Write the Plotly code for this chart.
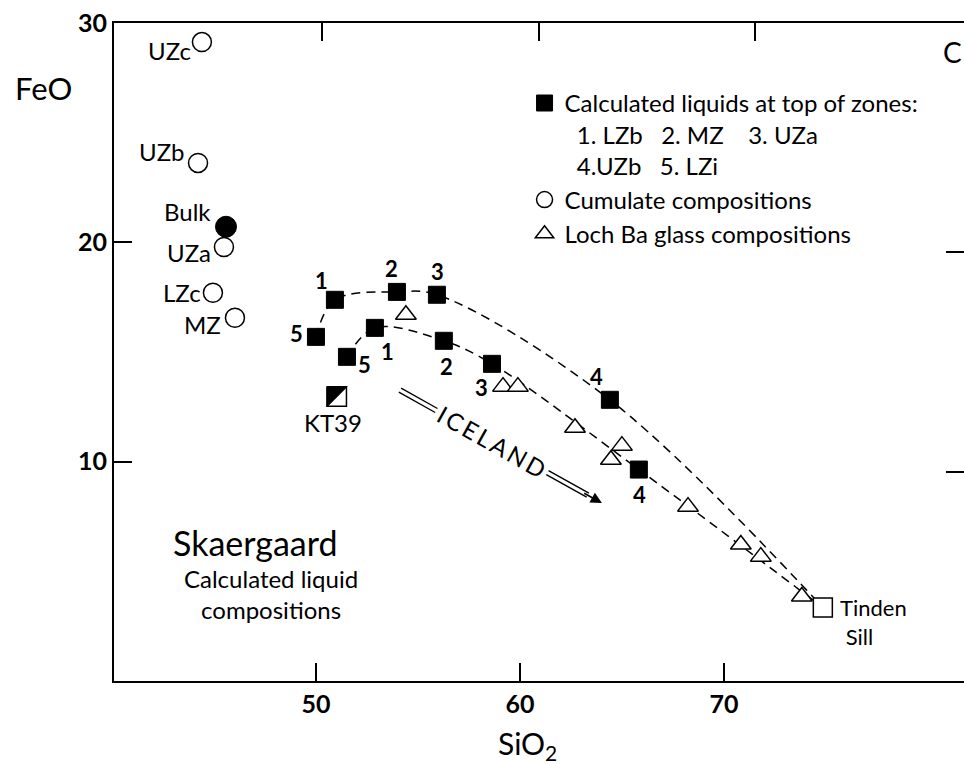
import math
import plotly.graph_objects as go

# ---------------------------------------------------------------- data
# Calculated liquids at the top of each zone (SiO2, FeO wt%)
zone_numbers = ["5", "1", "2", "3", "4"]
upper_sio2 = [50.00, 50.93, 53.97, 55.93, 64.41]
upper_feo = [15.69, 17.38, 17.74, 17.61, 12.82]
lower_sio2 = [51.52, 52.89, 56.27, 58.63, 65.83]
lower_feo = [14.78, 16.10, 15.51, 14.46, 9.64]

# Cumulate compositions
cumulate_names = ["UZc", "UZb", "UZa", "LZc", "MZ"]
cumulate_sio2 = [44.41, 44.22, 45.49, 44.95, 46.03]
cumulate_feo = [29.13, 23.62, 19.79, 17.70, 16.56]

# Bulk composition
bulk_name = "Bulk"
bulk_sio2 = [45.59]
bulk_feo = [20.71]

# Loch Ba glass compositions
lochba_sio2 = [54.41, 59.17, 59.90, 62.70, 65.00, 64.46, 68.24, 70.83, 71.81, 73.82]
lochba_feo = [16.70, 13.42, 13.42, 11.55, 10.73, 10.09, 7.95, 6.22, 5.67, 3.85]

# Single samples
kt39_name = "KT39"
kt39_sio2 = [51.03]
kt39_feo = [12.96]
tinden_name = "Tinden<br>\u00a0Sill"
tinden_sio2 = [74.85]
tinden_feo = [3.35]

x_ticks = [50, 60, 70]
y_ticks = [10, 20, 30]

# ---------------------------------------------------------------- layout constants
W, H = 964, 764
M_L, M_R, M_T, M_B = 114, 0, 23, 83
X_RANGE = [40.1, 81.77]
Y_RANGE = [0, 30]
PLOT_W = W - M_L - M_R
PLOT_H = H - M_T - M_B
PX_X = PLOT_W / (X_RANGE[1] - X_RANGE[0])   # pixels per SiO2 unit
PX_Y = PLOT_H / (Y_RANGE[1] - Y_RANGE[0])   # pixels per FeO unit

FONT = "Lato, 'Open Sans', sans-serif"
INK = "black"

fig = go.Figure()

# dashed liquid trends ending at the Tinden Sill composition
for xs, ys in ((upper_sio2, upper_feo), (lower_sio2, lower_feo)):
    fig.add_trace(go.Scatter(
        x=xs + tinden_sio2, y=ys + tinden_feo, mode="lines",
        line=dict(color=INK, width=1.5, dash="9px,6px", shape="spline", smoothing=1.0),
        showlegend=False, hoverinfo="skip"))

legend_liquids = ("Calculated liquids at top of zones:<br>"
                  "\u00a0\u00a01.\u00a0LZb\u00a0\u00a0\u00a02.\u00a0MZ\u00a0\u00a0\u00a0\u00a03.\u00a0UZa<br>"
                  "\u00a0\u00a04.UZb\u00a0\u00a0\u00a05.\u00a0LZi")

fig.add_trace(go.Scatter(
    x=upper_sio2, y=upper_feo, mode="markers", name=legend_liquids,
    marker=dict(symbol="square", size=17, color=INK, line=dict(color=INK, width=1))))
fig.add_trace(go.Scatter(
    x=lower_sio2, y=lower_feo, mode="markers", showlegend=False,
    marker=dict(symbol="square", size=17, color=INK, line=dict(color=INK, width=1))))

fig.add_trace(go.Scatter(
    x=cumulate_sio2, y=cumulate_feo, mode="markers", name="Cumulate compositions",
    marker=dict(symbol="circle", size=19, color="white", line=dict(color=INK, width=1.5))))
fig.add_trace(go.Scatter(
    x=bulk_sio2, y=bulk_feo, mode="markers", showlegend=False,
    marker=dict(symbol="circle", size=21, color=INK, line=dict(color=INK, width=1))))

fig.add_trace(go.Scatter(
    x=lochba_sio2, y=lochba_feo, mode="markers", name="Loch Ba glass compositions",
    marker=dict(symbol="triangle-up", size=18, color="white", line=dict(color=INK, width=1.5))))

fig.add_trace(go.Scatter(
    x=tinden_sio2, y=tinden_feo, mode="markers", showlegend=False,
    marker=dict(symbol="square", size=19, color="white", line=dict(color=INK, width=1.5))))

# KT39: open square with its upper-left half filled
fig.add_trace(go.Scatter(
    x=kt39_sio2, y=kt39_feo, mode="markers", showlegend=False,
    marker=dict(symbol="square", size=19, color="white", line=dict(color=INK, width=1.5))))
half_x = 10.2 / PX_X
half_y = 10.2 / PX_Y
kx, ky = kt39_sio2[0], kt39_feo[0]
fig.add_trace(go.Scatter(
    x=[kx - half_x, kx + half_x, kx - half_x, kx - half_x],
    y=[ky + half_y, ky + half_y, ky - half_y, ky + half_y],
    mode="lines", fill="toself", fillcolor=INK, line=dict(color=INK, width=1),
    showlegend=False, hoverinfo="skip"))

# helper trace so the top / right frame axes are drawn
fig.add_trace(go.Scatter(x=[], y=[], xaxis="x2", yaxis="y2", showlegend=False))

annotations = []

def label(x, y, text, dx, dy, size=24, bold=False, anchor="center", align="center"):
    annotations.append(dict(
        x=x, y=y, xref="x", yref="y", text=text, showarrow=False, align=align,
        xanchor=anchor, yanchor="middle", xshift=dx, yshift=-dy,
        font=dict(family=FONT, size=size, color=INK, weight="bold" if bold else "normal")))

# zone numbers beside the squares (pixel offsets)
upper_offsets = [(-19, -3), (-13, -19), (-5, -23), (1, -23), (-13, -23)]
lower_offsets = [(18, 8), (13, 24), (3, 26), (-10, 24), (1, 25)]
for num, x, y, (dx, dy) in zip(zone_numbers, upper_sio2, upper_feo, upper_offsets):
    label(x, y, num, dx, dy, size=22, bold=True)
for num, x, y, (dx, dy) in zip(zone_numbers, lower_sio2, lower_feo, lower_offsets):
    label(x, y, num, dx, dy, size=22, bold=True)

# cumulate names to the left of the circles
cumulate_offsets = [(-9, 8), (-12, -11), (-11, 6), (-10, 0), (-12, 7)]
for name, x, y, (dx, dy) in zip(cumulate_names, cumulate_sio2, cumulate_feo, cumulate_offsets):
    label(x, y, name, dx, dy, anchor="right")
label(bulk_sio2[0], bulk_feo[0], bulk_name, -13, -15, anchor="right")

label(kt39_sio2[0], kt39_feo[0], kt39_name, -4, 26)
label(tinden_sio2[0], tinden_feo[0], tinden_name, 15, 14, size=22, anchor="left", align="left")

# Icelandic trend arrow
ice_tail = (54.12, 13.26)
ice_head = (64.02, 8.11)
vx = (ice_head[0] - ice_tail[0]) * PX_X
vy = (ice_tail[1] - ice_head[1]) * PX_Y          # screen-down positive
length = math.hypot(vx, vy)
ux, uy = vx / length, vy / length
angle = math.degrees(math.atan2(vy, vx))

def along(t, off):
    # point at fraction t along the arrow, shifted `off` px perpendicular
    px = t * vx - off * uy
    py = t * vy + off * ux
    return ice_tail[0] + px / PX_X, ice_tail[1] - py / PX_Y

shapes = []
for t0, t1 in ((0.0, 0.18), (0.73, 0.93)):
    for off in (-2.3, 2.3):
        x0, y0 = along(t0, off)
        x1, y1 = along(t1, off)
        shapes.append(dict(type="line", xref="x", yref="y", x0=x0, y0=y0, x1=x1, y1=y1,
                           line=dict(color=INK, width=1.4)))

annotations.append(dict(
    x=ice_head[0], y=ice_head[1], xref="x", yref="y", text="", showarrow=True,
    ax=-ux * 22, ay=-uy * 22, arrowhead=2, arrowsize=1.4, arrowwidth=1.6, arrowcolor=INK))
tx, ty = along(0.455, 0)
annotations.append(dict(
    x=tx, y=ty, xref="x", yref="y", text="I\u2009C\u2009E\u2009L\u2009A\u2009N\u2009D",
    showarrow=False, textangle=angle, xanchor="center", yanchor="middle",
    font=dict(family=FONT, size=24, color=INK)))

# titles and captions
def paper_text(x, y, text, size, xanchor="center", align="center"):
    annotations.append(dict(
        x=x, y=y, xref="paper", yref="paper", text=text, showarrow=False,
        xanchor=xanchor, yanchor="middle", align=align, borderpad=0, borderwidth=0,
        font=dict(family=FONT, size=size, color=INK)))

paper_text(-0.083, 0.901, "FeO", 31)
paper_text(0.486, -0.097, "SiO<sub>2</sub>", 30)
paper_text(0.987, 0.956, "C", 28)
paper_text(0.0695, 0.210, "Skaergaard", 34, xanchor="left")
paper_text(0.185, 0.132, "Calculated liquid<br>compositions", 24)

axis_common = dict(showgrid=False, zeroline=False, ticks="inside", ticklen=18,
                   tickwidth=2, tickcolor=INK, linecolor=INK, linewidth=2)
tick_font = dict(family=FONT, size=25, color=INK, weight="bold")

fig.update_layout(
    width=W, height=H, autosize=False,
    margin=dict(l=M_L, r=M_R, t=M_T, b=M_B),
    paper_bgcolor="white", plot_bgcolor="white",
    showlegend=True,
    legend=dict(x=0.483, y=0.912, xanchor="left", yanchor="top",
                font=dict(family=FONT, size=24, color=INK),
                valign="top", bgcolor="rgba(0,0,0,0)", borderwidth=0,
                tracegroupgap=0, itemclick=False, itemdoubleclick=False),
    xaxis=dict(range=X_RANGE, tickvals=x_ticks, showline=True, tickfont=tick_font,
               mirror=False, **axis_common),
    yaxis=dict(range=Y_RANGE, tickvals=y_ticks, showline=True, tickfont=tick_font,
               mirror=False, **axis_common),
    xaxis2=dict(range=[40.39, 79.65], tickvals=x_ticks, overlaying="x", side="top",
                anchor="y2", showline=True, showticklabels=False, **axis_common),
    yaxis2=dict(range=[0.5, 30.41], tickvals=[10, 20], overlaying="y", side="right",
                anchor="x2", showline=False, showticklabels=False, **axis_common),
    annotations=annotations,
    shapes=shapes,
)

fig.write_html("out.html")
